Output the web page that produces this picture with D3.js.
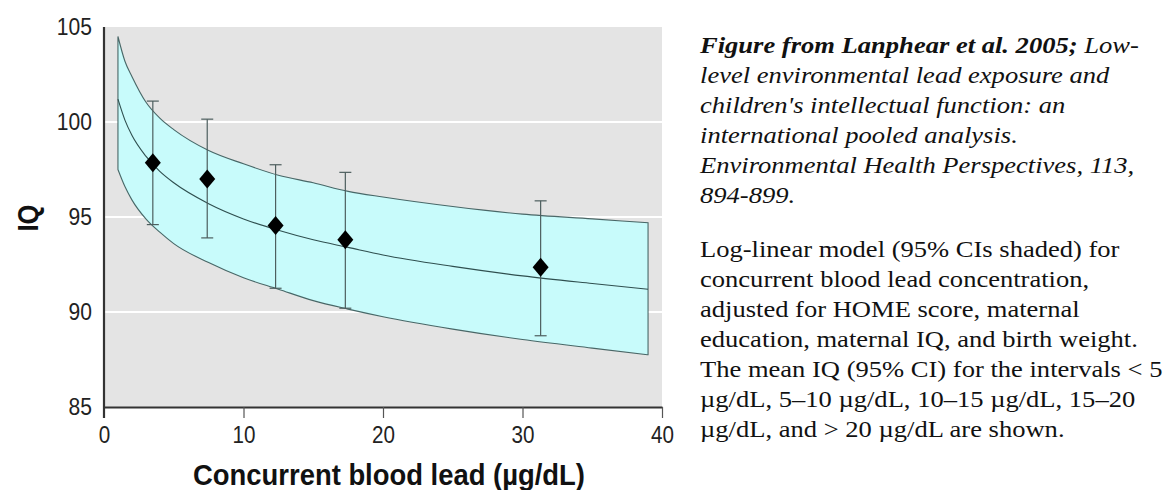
<!DOCTYPE html>
<html>
<head>
<meta charset="utf-8">
<script src="https://cdn.jsdelivr.net/npm/d3@7"></script>
<style>
  body { margin: 0; background: #fff; }
  .tick-label { font-family: "Liberation Sans", Arial, sans-serif; fill: #222; }
  .axis-title { font-family: "Liberation Sans", Arial, sans-serif; font-weight: bold; fill: #111; }
  .caption { font-family: "Liberation Serif", "Times New Roman", serif; fill: #111; }
</style>
</head>
<body>
<svg id="chart" width="1166" height="490"></svg>
<script>
// ---------- data

// x grid used for the model curve and its CI band (µg/dL)
const BAND_X = [1, 1.5, 2, 3, 4, 5, 7.5, 10, 12.5, 15, 17.5, 20, 25, 30, 35, 39];
const FIT_IQ = [101.2, 100.1, 99.3, 98.2, 97.4, 96.8, 95.7, 94.9, 94.3, 93.8, 93.4, 93.0, 92.4, 91.9, 91.5, 91.2];
const UPPER_IQ = [104.5, 103.2, 102.4, 101.05, 100.2, 99.6, 98.5, 97.8, 97.2, 96.8, 96.35, 96.05, 95.55, 95.15, 94.9, 94.7];
const LOWER_IQ = [97.5, 96.6, 95.9, 94.9, 94.2, 93.6, 92.6, 91.8, 91.2, 90.6, 90.15, 89.75, 89.1, 88.55, 88.1, 87.75];

// interval means with 95% CI
const BIN_X = [3.5, 7.4, 12.3, 17.3, 31.3];
const BIN_MEAN = [97.85, 97.0, 94.55, 93.8, 92.35];
const BIN_LOW = [94.6, 93.9, 91.25, 90.2, 88.75];
const BIN_HIGH = [101.1, 100.15, 97.75, 97.35, 95.85];

const X_TICKS = [0, 10, 20, 30, 40];
const Y_TICKS = [85, 90, 95, 100, 105];

const X_TITLE = "Concurrent blood lead (\u00b5g/dL)";
const Y_TITLE = "IQ";

const CAPTION_1 = [
  [{ t: "Figure from Lanphear et al. 2005;", b: true }, { t: " Low-" }],
  [{ t: "level environmental lead exposure and" }],
  [{ t: "children's intellectual function: an" }],
  [{ t: "international pooled analysis." }],
  [{ t: "Environmental Health Perspectives, 113," }],
  [{ t: "894-899." }],
];
const CAPTION_2 = [
  "Log-linear model (95% CIs shaded) for",
  "concurrent blood lead concentration,",
  "adjusted for HOME score, maternal",
  "education, maternal IQ, and birth weight.",
  "The mean IQ (95% CI) for the intervals < 5",
  "\u00b5g/dL, 5\u201310 \u00b5g/dL, 10\u201315 \u00b5g/dL, 15\u201320",
  "\u00b5g/dL, and > 20 \u00b5g/dL are shown.",
];

// ---------- layout

const PANEL_GRAY = "#e4e4e4";
const BAND_FILL = "#c8fbfb";
const CURVE_STROKE = "#2f4f4f";
const BAR_STROKE = "#4d5e5e";
const AXIS_STROKE = "#333";

// the figure's fonts are condensed sans; squeeze Liberation Sans to match
const SANS_SQUEEZE = 0.86;
// the caption's serif is a little wider than Liberation Serif
const SERIF_STRETCH = 1.155;

const svg = d3.select("#chart");
const plotLeft = 104, plotRight = 662, plotTop = 27, plotBottom = 407;

const x = d3.scaleLinear().domain([0, 40]).range([plotLeft, plotRight]);
const y = d3.scaleLinear().domain([85, 105]).range([plotBottom, plotTop]);

// gray panel
svg.append("rect")
  .attr("x", plotLeft).attr("y", plotTop)
  .attr("width", plotRight - plotLeft).attr("height", plotBottom - plotTop)
  .attr("fill", PANEL_GRAY);

// white gridlines
svg.append("g")
  .selectAll("line")
  .data(Y_TICKS.filter(v => v > 85 && v < 105))
  .join("line")
  .attr("x1", plotLeft).attr("x2", plotRight)
  .attr("y1", d => y(d)).attr("y2", d => y(d))
  .attr("stroke", "#fff").attr("stroke-width", 2);

// CI band
const bandRows = BAND_X.map((v, i) => ({ x: v, fit: FIT_IQ[i], lo: LOWER_IQ[i], hi: UPPER_IQ[i] }));

const area = d3.area()
  .x(d => x(d.x))
  .y0(d => y(d.lo))
  .y1(d => y(d.hi))
  .curve(d3.curveMonotoneX);

svg.append("path")
  .datum(bandRows)
  .attr("d", area)
  .attr("fill", BAND_FILL)
  .attr("stroke", CURVE_STROKE)
  .attr("stroke-width", 1.1)
  .attr("stroke-opacity", 0.85);

svg.append("path")
  .datum(bandRows)
  .attr("d", d3.line().x(d => x(d.x)).y(d => y(d.fit)).curve(d3.curveMonotoneX))
  .attr("fill", "none")
  .attr("stroke", CURVE_STROKE)
  .attr("stroke-width", 1.1);

// error bars
const bins = BIN_X.map((v, i) => ({ x: v, mean: BIN_MEAN[i], lo: BIN_LOW[i], hi: BIN_HIGH[i] }));
const bars = svg.append("g").attr("stroke", BAR_STROKE).attr("stroke-width", 1.2);

bars.selectAll("line.stem")
  .data(bins)
  .join("line")
  .attr("class", "stem")
  .attr("x1", d => x(d.x)).attr("x2", d => x(d.x))
  .attr("y1", d => y(d.lo)).attr("y2", d => y(d.hi));

bars.selectAll("line.cap-hi")
  .data(bins)
  .join("line")
  .attr("class", "cap-hi")
  .attr("x1", d => x(d.x) - 6).attr("x2", d => x(d.x) + 6)
  .attr("y1", d => y(d.hi)).attr("y2", d => y(d.hi));

bars.selectAll("line.cap-lo")
  .data(bins)
  .join("line")
  .attr("class", "cap-lo")
  .attr("x1", d => x(d.x) - 6).attr("x2", d => x(d.x) + 6)
  .attr("y1", d => y(d.lo)).attr("y2", d => y(d.lo));

// diamonds
svg.append("g")
  .selectAll("path")
  .data(bins)
  .join("path")
  .attr("transform", d => `translate(${x(d.x)},${y(d.mean)})`)
  .attr("d", "M0,-9.5L8,0L0,9.5L-8,0Z")
  .attr("fill", "#000");

// axes
const xAxis = svg.append("g")
  .attr("transform", `translate(0,${plotBottom})`)
  .call(d3.axisBottom(x).tickValues(X_TICKS).tickSize(11).tickPadding(8).tickSizeOuter(0));
xAxis.select(".domain").attr("stroke", AXIS_STROKE).attr("stroke-width", 2.2);
xAxis.selectAll(".tick line").attr("stroke", "#555").attr("stroke-width", 1.2);
xAxis.selectAll(".tick").filter(d => d === 0).select("line").remove();
xAxis.selectAll(".tick text")
  .attr("class", "tick-label")
  .attr("font-size", 24)
  .attr("transform", `scale(${SANS_SQUEEZE},1)`);

const yAxis = svg.append("g")
  .attr("transform", `translate(${plotLeft},0)`)
  .call(d3.axisLeft(y).tickValues(Y_TICKS).tickSize(0).tickPadding(14).tickSizeOuter(0));
yAxis.select(".domain").attr("stroke", AXIS_STROKE).attr("stroke-width", 2.2)
  .attr("d", `M0,${plotTop}V${plotBottom + 11}`);
yAxis.selectAll(".tick text")
  .attr("class", "tick-label")
  .attr("font-size", 24.5)
  .attr("transform", `scale(${SANS_SQUEEZE},1)`);

// axis titles
svg.append("text")
  .attr("class", "axis-title")
  .attr("x", 389).attr("y", 485)
  .attr("text-anchor", "middle")
  .attr("font-size", 29)
  .attr("textLength", 392)
  .attr("lengthAdjust", "spacingAndGlyphs")
  .text(X_TITLE);

svg.append("text")
  .attr("class", "axis-title")
  .attr("transform", "translate(38,218) rotate(-90)")
  .attr("text-anchor", "middle")
  .attr("font-size", 29)
  .attr("textLength", 27)
  .attr("lengthAdjust", "spacingAndGlyphs")
  .text(Y_TITLE);

// caption text on the right
const captionG = svg.append("g")
  .attr("transform", `translate(700,0) scale(${SERIF_STRETCH},1)`);

const cap1 = captionG.append("text")
  .attr("class", "caption")
  .attr("font-size", 23)
  .attr("font-style", "italic");
CAPTION_1.forEach((parts, i) => {
  parts.forEach((p, j) => {
    const ts = cap1.append("tspan").text(p.t);
    if (j === 0) ts.attr("x", 0).attr("y", 53 + i * 30.1);
    if (p.b) ts.attr("font-weight", "bold");
  });
});

captionG.append("text")
  .attr("class", "caption")
  .attr("font-size", 23)
  .selectAll("tspan")
  .data(CAPTION_2)
  .join("tspan")
  .attr("x", 0)
  .attr("y", (d, i) => 257 + i * 30)
  .text(d => d);
</script>
</body>
</html>
